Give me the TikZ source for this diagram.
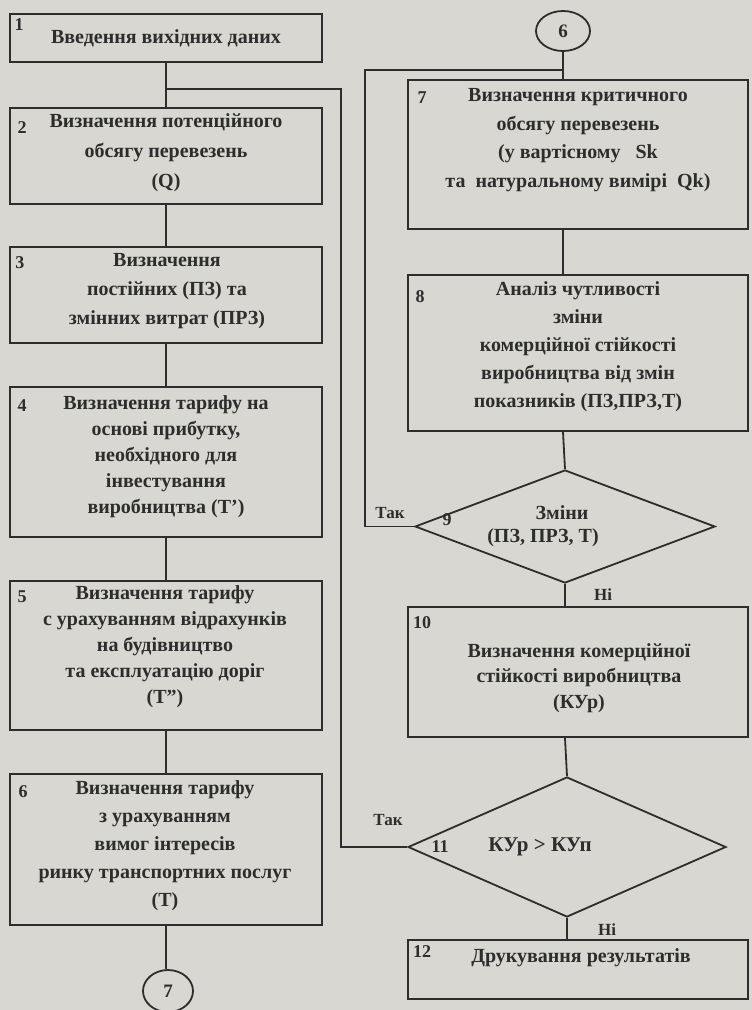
\documentclass[tikz,border=0pt]{standalone}
\usepackage{fontspec}
\setmainfont{Liberation Serif}
\usetikzlibrary{shapes.geometric}
\definecolor{paper}{RGB}{216,215,210}
\definecolor{ink}{RGB}{45,45,45}
\newcommand\fsz[2]{\fontsize{#1}{#2}\selectfont}
\begin{document}
\begin{tikzpicture}[x=1pt,y=-1pt,
  box/.style={draw=ink, line width=2pt, rectangle, inner sep=0pt},
  dia/.style={draw=ink, line width=1.8pt, diamond, inner sep=0pt},
  circ/.style={draw=ink, line width=1.8pt, ellipse, inner sep=0pt, font=\bfseries\fsz{19}{20}, text=ink},
  conn/.style={draw=ink, line width=1.8pt},
  txt/.style={align=center, inner sep=0pt, text=ink},
  num/.style={inner sep=0pt, text=ink, font=\bfseries\fsz{18}{20}},
  lbl/.style={inner sep=0pt, text=ink, font=\bfseries\fsz{17}{20}}]
\useasboundingbox (0,0) rectangle (752,1010);
\fill[paper] (0,0) rectangle (752,1010);
% left column boxes
\node[box, minimum width=312, minimum height=48] (b1) at (166,38) {};
\node[box, minimum width=312, minimum height=96] (b2) at (166,156) {};
\node[box, minimum width=312, minimum height=96] (b3) at (166,295) {};
\node[box, minimum width=312, minimum height=150] (b4) at (166,462) {};
\node[box, minimum width=312, minimum height=149] (b5) at (166,655.5) {};
\node[box, minimum width=312, minimum height=151] (b6) at (166,849.5) {};
\node[circ, minimum width=50, minimum height=42] (c7) at (168,991) {7};
% right column
\node[circ, minimum width=54, minimum height=40] (c6) at (563,31) {6};
\node[box, minimum width=340, minimum height=149] (b7) at (578,154.5) {};
\node[box, minimum width=340, minimum height=156] (b8) at (578,353) {};
\node[dia, minimum width=300, minimum height=113] (d9) at (565,526.5) {};
\node[box, minimum width=340, minimum height=130] (b10) at (578,672) {};
\node[dia, minimum width=318, minimum height=140] (d11) at (567,847) {};
\node[box, minimum width=340, minimum height=59] (b12) at (578,969.5) {};
% texts
\node[txt, font=\bfseries\fsz{20}{22}] (t1) at (166,38) {Введення вихідних даних};
\node[txt, font=\bfseries\fsz{20}{30}] (t2) at (166,153) {Визначення потенційного\\обсягу перевезень\\(Q)};
\node[txt, font=\bfseries\fsz{20}{29}] (t3) at (167,291) {Визначення\\постійних (ПЗ) та\\змінних витрат (ПРЗ)};
\node[txt, font=\bfseries\fsz{20}{26}] (t4) at (166,457) {Визначення тарифу на\\основі прибутку,\\необхідного для\\інвестування\\виробництва (Т')};
\node[txt, font=\bfseries\fsz{20}{26}] (t5) at (165,647) {Визначення тарифу\\с урахуванням відрахунків\\на будівництво\\та експлуатацію доріг\\(Т")};
\node[txt, font=\bfseries\fsz{20}{28}] (t6) at (165,846) {Визначення тарифу\\з урахуванням\\вимог інтересів\\ринку транспортних послуг\\(Т)};
\node[txt, font=\bfseries\fsz{20}{28.5}] (t7) at (578,140) {Визначення критичного\\обсягу перевезень\\(у вартісному~~~Sk\\та~~натуральному вимірі~~Qk)};
\node[txt, font=\bfseries\fsz{20}{28}] (t8) at (578,347) {Аналіз чутливості\\зміни\\комерційної стійкості\\виробництва від змін\\показників (ПЗ,ПРЗ,Т)};
\node[txt, font=\bfseries\fsz{20}{24}] (t9a) at (562,513) {Зміни};
\node[txt, font=\bfseries\fsz{20}{24}] (t9b) at (543,538) {(ПЗ, ПРЗ, Т)};
\node[txt, font=\bfseries\fsz{20}{25.5}] (t10) at (579,678) {Визначення комерційної\\стійкості виробництва\\(КУр)};
\node[txt, font=\bfseries\fsz{21}{24}] (t11) at (540,847) {КУр > КУп};
\node[txt, font=\bfseries\fsz{20}{24}] (t12) at (581,958) {Друкування результатів};
% numbers
\node[num] (n1) at (19,25) {1};
\node[num] (n2) at (22,128) {2};
\node[num] (n3) at (20,263) {3};
\node[num] (n4) at (22,406) {4};
\node[num] (n5) at (22,597) {5};
\node[num] (n6) at (23,792) {6};
\node[num] (n7) at (422,98) {7};
\node[num] (n8) at (420,297) {8};
\node[num] (n9) at (447,520) {9};
\node[num] (n10) at (422,623) {10};
\node[num] (n11) at (440,847) {11};
\node[num] (n12) at (422,952) {12};
% labels
\node[lbl] (y9) at (390,513) {Так};
\node[lbl] (y11) at (388,820) {Так};
\node[lbl] (no9) at (603,595) {Ні};
\node[lbl] (no11) at (607,930) {Ні};
% connectors left
\draw[conn] (b1.south) -- (b2.north);
\draw[conn] (b2.south) -- (b3.north);
\draw[conn] (b3.south) -- (b4.north);
\draw[conn] (b4.south) -- (b5.north);
\draw[conn] (b5.south) -- (b6.north);
\draw[conn] (b6.south) -- (b6.south |- c7.north);
\coordinate (r1) at (341,89);
\coordinate (r2) at (341,847);
\draw[conn] (b1.south |- r1) -- (r1) -- (r2) -- (d11.west);
% connectors right
\coordinate (l1) at (365,526.5);
\coordinate (l2) at (365,70);
\draw[conn] (c6.south) -- (c6.south |- b7.north);
\draw[conn] (d9.west) -- (l1) -- (l2) -- (l2 -| c6.south);
\draw[conn] (b7.south -| c6.south) -- (b8.north -| c6.south);
\draw[conn] (b8.south -| c6.south) -- (d9.north);
\draw[conn] (d9.south) -- (d9.south |- b10.north);
\draw[conn] (b10.south -| d9.south) -- (d11.north);
\draw[conn] (d11.south) -- (d11.south |- b12.north);
\end{tikzpicture}
\end{document}
